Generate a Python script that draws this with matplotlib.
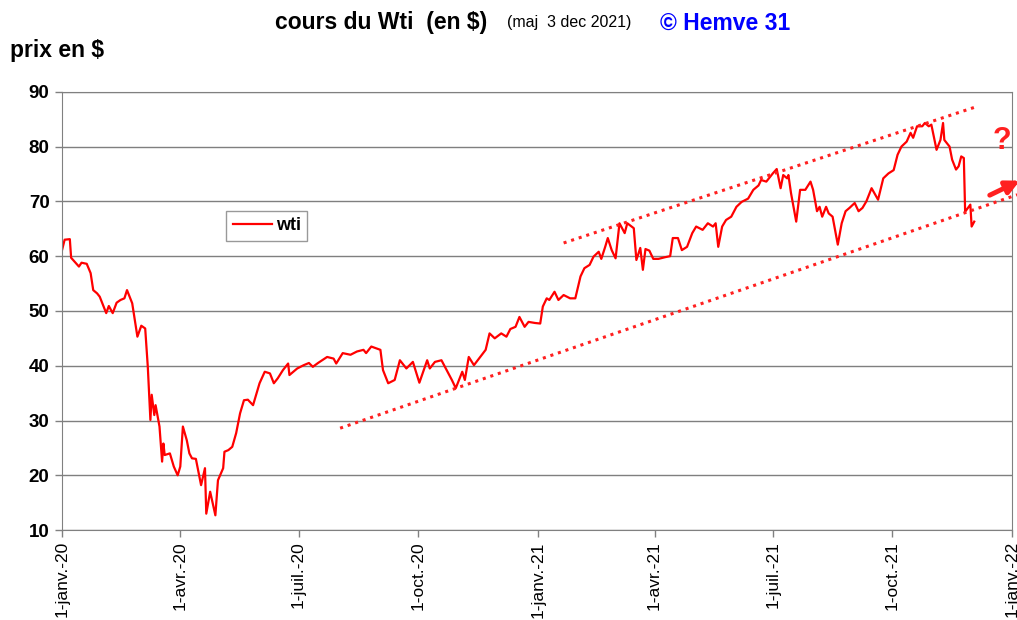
import numpy as np
import matplotlib
matplotlib.use("Agg")
import matplotlib.pyplot as plt

plt.rcParams['font.family'] = ['Liberation Sans', 'DejaVu Sans']

# days since 1 Jan 2020 and WTI price ($)
days = [0, 2, 6, 7, 13, 15, 19, 22, 24, 27, 29, 34, 36, 39, 42, 45, 48, 50, 54, 58,
        61, 64, 66, 68, 69, 71, 72, 75, 77, 78, 79, 83, 86, 89, 91, 93, 96, 98, 100, 103,
        107, 110, 111, 114, 118, 120, 124, 125, 128, 131, 134, 137, 140, 143, 147, 152, 156, 160, 163, 166,
        170, 174, 175, 181, 186, 190, 193, 197, 204, 209, 211, 216, 222, 227, 232, 234, 238, 245, 247, 251,
        256, 260, 265, 270, 275, 281, 283, 287, 292, 296, 300, 303, 308, 310, 313, 317, 326, 329, 333, 338,
        342, 345, 349, 352, 356, 359, 364, 368, 370, 373, 375, 379, 382, 386, 391, 395, 399, 402, 406, 409,
        413, 415, 418, 420, 423, 426, 429, 433, 435, 440, 442, 445, 447, 449, 452, 455, 459, 464, 468, 470,
        474, 477, 481, 485, 488, 493, 497, 501, 503, 505, 508, 511, 515, 519, 523, 528, 532, 536, 538, 542,
        545, 547, 550, 553, 555, 558, 559, 561, 565, 568, 572, 576, 578, 581, 583, 585, 588, 590, 593, 597,
        600, 603, 606, 610, 613, 616, 619, 623, 628, 632, 636, 640, 643, 646, 650, 653, 655, 658, 662, 664,
        667, 669, 673, 676, 678, 679, 683, 685, 688, 690, 692, 694, 695, 699, 700, 702]
wti = [61.1, 63.0, 63.1, 59.7, 58.1, 58.8, 58.6, 56.9, 53.8, 53.2, 52.6, 49.6, 50.9, 49.6, 51.5, 52.0, 52.3, 53.8, 51.4, 45.3,
       47.3, 46.8, 39.8, 30.1, 34.7, 31.0, 32.8, 28.9, 22.5, 25.8, 23.7, 24.0, 21.6, 20.0, 21.6, 28.9, 26.4, 24.0, 23.1, 23.0,
       18.2, 21.3, 13.0, 17.0, 12.7, 19.1, 21.3, 24.3, 24.6, 25.2, 27.7, 31.3, 33.7, 33.8, 32.8, 36.8, 38.9, 38.6, 36.8, 37.7,
       39.2, 40.4, 38.3, 39.5, 40.1, 40.5, 39.8, 40.5, 41.6, 41.3, 40.4, 42.3, 42.0, 42.6, 42.9, 42.3, 43.5, 42.9, 39.2, 36.8,
       37.4, 41.0, 39.5, 40.7, 36.9, 41.0, 39.5, 40.7, 41.0, 39.2, 37.4, 35.9, 38.9, 37.4, 41.6, 40.1, 42.9, 45.9, 45.0, 45.9,
       45.3, 46.7, 47.1, 48.9, 47.1, 48.0, 47.8, 47.7, 50.8, 52.3, 52.0, 53.5, 52.0, 52.9, 52.3, 52.3, 56.3, 57.8, 58.4, 59.9,
       60.8, 59.5, 61.7, 63.3, 61.1, 59.6, 66.0, 64.2, 66.0, 65.1, 59.3, 61.5, 57.5, 61.3, 61.0, 59.5, 59.5, 59.8, 60.0, 63.3,
       63.3, 61.1, 61.7, 64.2, 65.4, 64.8, 66.0, 65.4, 66.0, 61.7, 65.4, 66.6, 67.2, 69.0, 69.9, 70.5, 72.1, 72.9, 73.9, 73.6,
       74.5, 75.1, 75.9, 72.4, 74.8, 74.2, 74.8, 71.5, 66.3, 72.1, 72.1, 73.6, 72.1, 68.2, 69.0, 67.2, 69.0, 67.8, 67.2, 62.1,
       66.0, 68.2, 68.8, 69.7, 68.2, 68.8, 70.0, 72.4, 70.3, 74.2, 75.1, 75.7, 78.5, 80.0, 80.9, 82.5, 81.6, 83.7, 83.7, 84.3,
       83.7, 84.0, 79.4, 81.2, 84.3, 81.2, 80.0, 77.6, 75.8, 76.4, 78.2, 77.9, 68.1, 69.4, 65.4, 66.3]

# channel lines drawn by hand on the original (day, price)
upper_days = [386, 704]
upper_vals = [62.4, 87.3]
lower_days = [214, 735]
lower_vals = [28.6, 71.2]

tick_dates = ['2020-01-01', '2020-04-01', '2020-07-01', '2020-10-01', '2021-01-01',
              '2021-04-01', '2021-07-01', '2021-10-01', '2022-01-01']
tick_labels = ['1-janv.-20', '1-avr.-20', '1-juil.-20', '1-oct.-20', '1-janv.-21',
               '1-avr.-21', '1-juil.-21', '1-oct.-21', '1-janv.-22']

start = np.datetime64('2020-01-01')
dates = start + np.array(days).astype('timedelta64[D]')

fig = plt.figure(figsize=(10.17, 6.2), dpi=100)
ax = fig.add_axes([0.061, 0.145, 0.934, 0.707])

ax.plot(dates, wti, color='#ff0000', lw=1.6, label='wti')

dot = (0, (1, 1.6))
ax.plot(start + np.array(upper_days).astype('timedelta64[D]'), upper_vals,
        color='#ff2020', lw=2.2, linestyle=dot, clip_on=False)
ax.plot(start + np.array(lower_days).astype('timedelta64[D]'), lower_vals,
        color='#ff2020', lw=2.2, linestyle=dot, clip_on=False)

# arrow and question mark on the right
ax.annotate('', xy=(start + np.timedelta64(739, 'D'), 74.0),
            xytext=(start + np.timedelta64(712, 'D'), 70.9),
            arrowprops=dict(arrowstyle='-|>', color='#ff2020', lw=3.5, mutation_scale=20),
            annotation_clip=False)
ax.text(start + np.timedelta64(723, 'D'), 81.0, '?', color='#ff2020', fontsize=22,
        fontweight='bold', ha='center', va='center', clip_on=False)

ax.set_xlim(start, np.datetime64('2022-01-01'))
ax.set_ylim(10, 90)
ax.set_yticks(range(10, 91, 10))
ax.set_xticks(np.array(tick_dates, dtype='datetime64[D]'))
ax.set_xticklabels(tick_labels, rotation=90, fontsize=12.5)
for t in ax.get_yticklabels():
    t.set_fontweight('bold')
    t.set_fontsize(13.5)

ax.yaxis.grid(True, color='#7f7f7f', lw=1)
ax.set_axisbelow(True)
for s in ax.spines.values():
    s.set_color('#808080')
ax.tick_params(axis='both', color='#808080', length=5, width=1)
ax.tick_params(axis='y', pad=4)
ax.tick_params(axis='x', pad=3)

leg = ax.legend(loc='upper left', bbox_to_anchor=(0.173, 0.728), borderaxespad=0,
                fancybox=False, edgecolor='#808080', prop={'weight': 'bold', 'size': 13},
                handlelength=2.2, handletextpad=0.2, borderpad=0.35)
leg.get_frame().set_linewidth(1)

fig.text(0.375, 0.963, 'cours du Wti  (en $)', fontsize=16.5, fontweight='bold', ha='center', va='center')
fig.text(0.560, 0.963, '(maj  3 dec 2021)', fontsize=11.5, ha='center', va='center')
fig.text(0.713, 0.963, '\u00a9 Hemve 31', fontsize=16.5, fontweight='bold', color='#0000ff',
         ha='center', va='center')
fig.text(0.010, 0.918, 'prix en $', fontsize=16.5, fontweight='bold', ha='left', va='center')

fig.savefig('out.png', dpi=100)
